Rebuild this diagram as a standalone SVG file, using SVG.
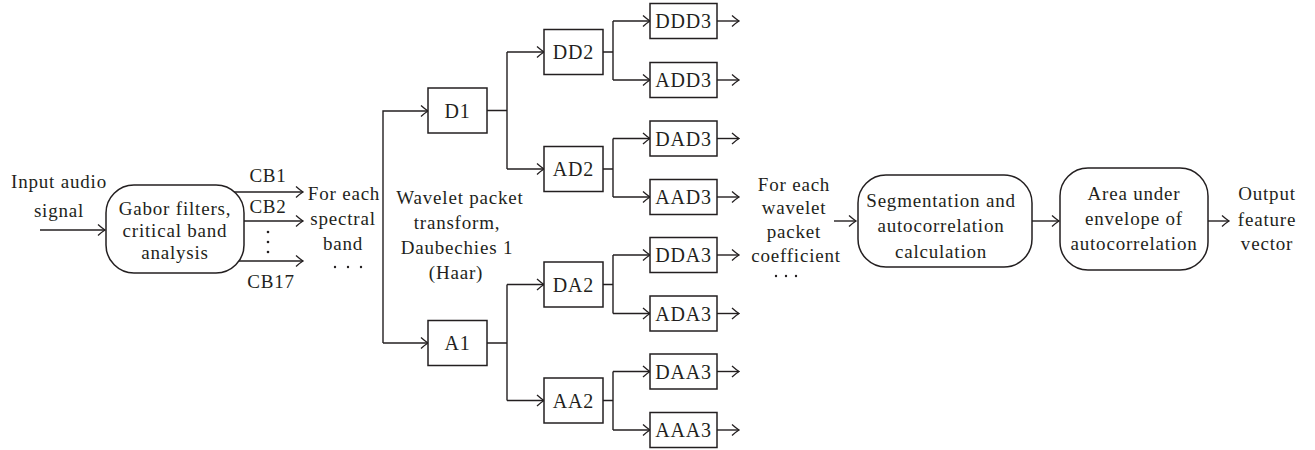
<svg xmlns="http://www.w3.org/2000/svg" width="1315" height="450" viewBox="0 0 1315 450">
<style>
text{font-family:"Liberation Serif","Times New Roman",serif;font-size:19px;fill:#231f20;text-anchor:middle;letter-spacing:0.8px}
text.bl{font-size:20px}
.box{fill:#fff;stroke:#231f20;stroke-width:1.5}
.ln{fill:none;stroke:#231f20;stroke-width:1.4}
.arr{fill:none;stroke:#231f20;stroke-width:1.4;marker-end:url(#ah)}
.dot{fill:#231f20}
</style>
<defs>
<marker id="ah" viewBox="-9 -7 10 14" markerWidth="10" markerHeight="14" refX="0" refY="0" orient="auto" markerUnits="userSpaceOnUse">
<path d="M-7,-5.5 Q-2.5,-1.5 0,0 Q-2.5,1.5 -7,5.5" fill="none" stroke="#231f20" stroke-width="1.3"/>
</marker>
</defs>
<g id="connectors">
<path class="arr" d="M40,230 H105"/>
<path class="arr" d="M234,192 H303"/>
<path class="arr" d="M244,221 H303"/>
<path class="arr" d="M238,261 H303"/>
<path class="arr" d="M383,343 V111 H428"/>
<path class="arr" d="M383,343 H428"/>
<path class="ln" d="M487,110.5 H507 M507,52 V169"/>
<path class="arr" d="M507,52 H544"/>
<path class="arr" d="M507,169 H544"/>
<path class="ln" d="M487,343 H507 M507,284.5 V400.5"/>
<path class="arr" d="M507,284.5 H544"/>
<path class="arr" d="M507,400.5 H544"/>
<path class="ln" d="M603,52 H613 M613,21 V80"/>
<path class="arr" d="M613,21 H650"/>
<path class="arr" d="M613,80 H650"/>
<path class="ln" d="M603,169 H613 M613,138.5 V197"/>
<path class="arr" d="M613,138.5 H650"/>
<path class="arr" d="M613,197 H650"/>
<path class="ln" d="M603,284.5 H613 M613,255 V313.5"/>
<path class="arr" d="M613,255 H650"/>
<path class="arr" d="M613,313.5 H650"/>
<path class="ln" d="M603,400.5 H613 M613,371.5 V430"/>
<path class="arr" d="M613,371.5 H650"/>
<path class="arr" d="M613,430 H650"/>
<path class="arr" d="M717,21 H739"/>
<path class="arr" d="M717,80 H739"/>
<path class="arr" d="M717,138.5 H739"/>
<path class="arr" d="M717,197 H739"/>
<path class="arr" d="M717,255 H739"/>
<path class="arr" d="M717,313.5 H739"/>
<path class="arr" d="M717,371.5 H739"/>
<path class="arr" d="M717,430 H739"/>
<path class="arr" d="M834,221 H856"/>
<path class="arr" d="M1032,221 H1059"/>
<path class="arr" d="M1208,221 H1229"/>
</g>
<g id="input-label">
<text x="59" y="188">Input audio</text>
<text x="59" y="217">signal</text>
</g>
<g id="gabor">
<rect class="box" x="106" y="185" width="138" height="88" rx="28"/>
<text x="175" y="215">Gabor filters,</text>
<text x="175" y="237">critical band</text>
<text x="175" y="259">analysis</text>
</g>
<g id="cb-labels">
<text x="268" y="182">CB1</text>
<text x="268" y="213">CB2</text>
<circle class="dot" cx="268" cy="232" r="1.3"/>
<circle class="dot" cx="268" cy="242" r="1.3"/>
<circle class="dot" cx="268" cy="252" r="1.3"/>
<text x="271" y="288">CB17</text>
</g>
<g id="spectral-label">
<text x="344" y="200">For each</text>
<text x="343" y="225">spectral</text>
<text x="343" y="250">band</text>
<circle class="dot" cx="335" cy="267" r="1.2"/>
<circle class="dot" cx="348" cy="267" r="1.2"/>
<circle class="dot" cx="361" cy="267" r="1.2"/>
</g>
<g id="wavelet-label">
<text x="460" y="204">Wavelet packet</text>
<text x="457" y="229">transform,</text>
<text x="457" y="254">Daubechies 1</text>
<text x="456" y="279">(Haar)</text>
</g>
<g id="D1"><rect class="box" x="428" y="88" width="59" height="45"/><text class="bl" x="457.5" y="117.5">D1</text></g>
<g id="A1"><rect class="box" x="428" y="320.5" width="59" height="45"/><text class="bl" x="457.5" y="350">A1</text></g>
<g id="DD2"><rect class="box" x="544" y="29.5" width="59" height="45"/><text class="bl" x="573.5" y="59">DD2</text></g>
<g id="AD2"><rect class="box" x="544" y="146.5" width="59" height="45"/><text class="bl" x="573.5" y="176">AD2</text></g>
<g id="DA2"><rect class="box" x="544" y="262" width="59" height="45"/><text class="bl" x="573.5" y="291.5">DA2</text></g>
<g id="AA2"><rect class="box" x="544" y="378" width="59" height="45"/><text class="bl" x="573.5" y="407.5">AA2</text></g>
<g id="DDD3"><rect class="box" x="650" y="3.5" width="67" height="35"/><text class="bl" x="683.5" y="28">DDD3</text></g>
<g id="ADD3"><rect class="box" x="650" y="62.5" width="67" height="35"/><text class="bl" x="683.5" y="87">ADD3</text></g>
<g id="DAD3"><rect class="box" x="650" y="121" width="67" height="35"/><text class="bl" x="683.5" y="145.5">DAD3</text></g>
<g id="AAD3"><rect class="box" x="650" y="179.5" width="67" height="35"/><text class="bl" x="683.5" y="204">AAD3</text></g>
<g id="DDA3"><rect class="box" x="650" y="237.5" width="67" height="35"/><text class="bl" x="683.5" y="262">DDA3</text></g>
<g id="ADA3"><rect class="box" x="650" y="296" width="67" height="35"/><text class="bl" x="683.5" y="320.5">ADA3</text></g>
<g id="DAA3"><rect class="box" x="650" y="354" width="67" height="35"/><text class="bl" x="683.5" y="378.5">DAA3</text></g>
<g id="AAA3"><rect class="box" x="650" y="412.5" width="67" height="35"/><text class="bl" x="683.5" y="437">AAA3</text></g>
<g id="coef-label">
<text x="794" y="191">For each</text>
<text x="794" y="214">wavelet</text>
<text x="794" y="238">packet</text>
<text x="796" y="262">coefficient</text>
<circle class="dot" cx="776" cy="276" r="1.2"/>
<circle class="dot" cx="786" cy="276" r="1.2"/>
<circle class="dot" cx="796" cy="276" r="1.2"/>
</g>
<g id="segmentation">
<rect class="box" x="858" y="175" width="174" height="92" rx="28"/>
<text x="941" y="207">Segmentation and</text>
<text x="941" y="232">autocorrelation</text>
<text x="941" y="258">calculation</text>
</g>
<g id="area">
<rect class="box" x="1060" y="168" width="148" height="102" rx="28"/>
<text x="1134" y="200">Area under</text>
<text x="1134" y="225">envelope of</text>
<text x="1134" y="250">autocorrelation</text>
</g>
<g id="output-label">
<text x="1267" y="200">Output</text>
<text x="1267" y="226">feature</text>
<text x="1267" y="250">vector</text>
</g>
</svg>
